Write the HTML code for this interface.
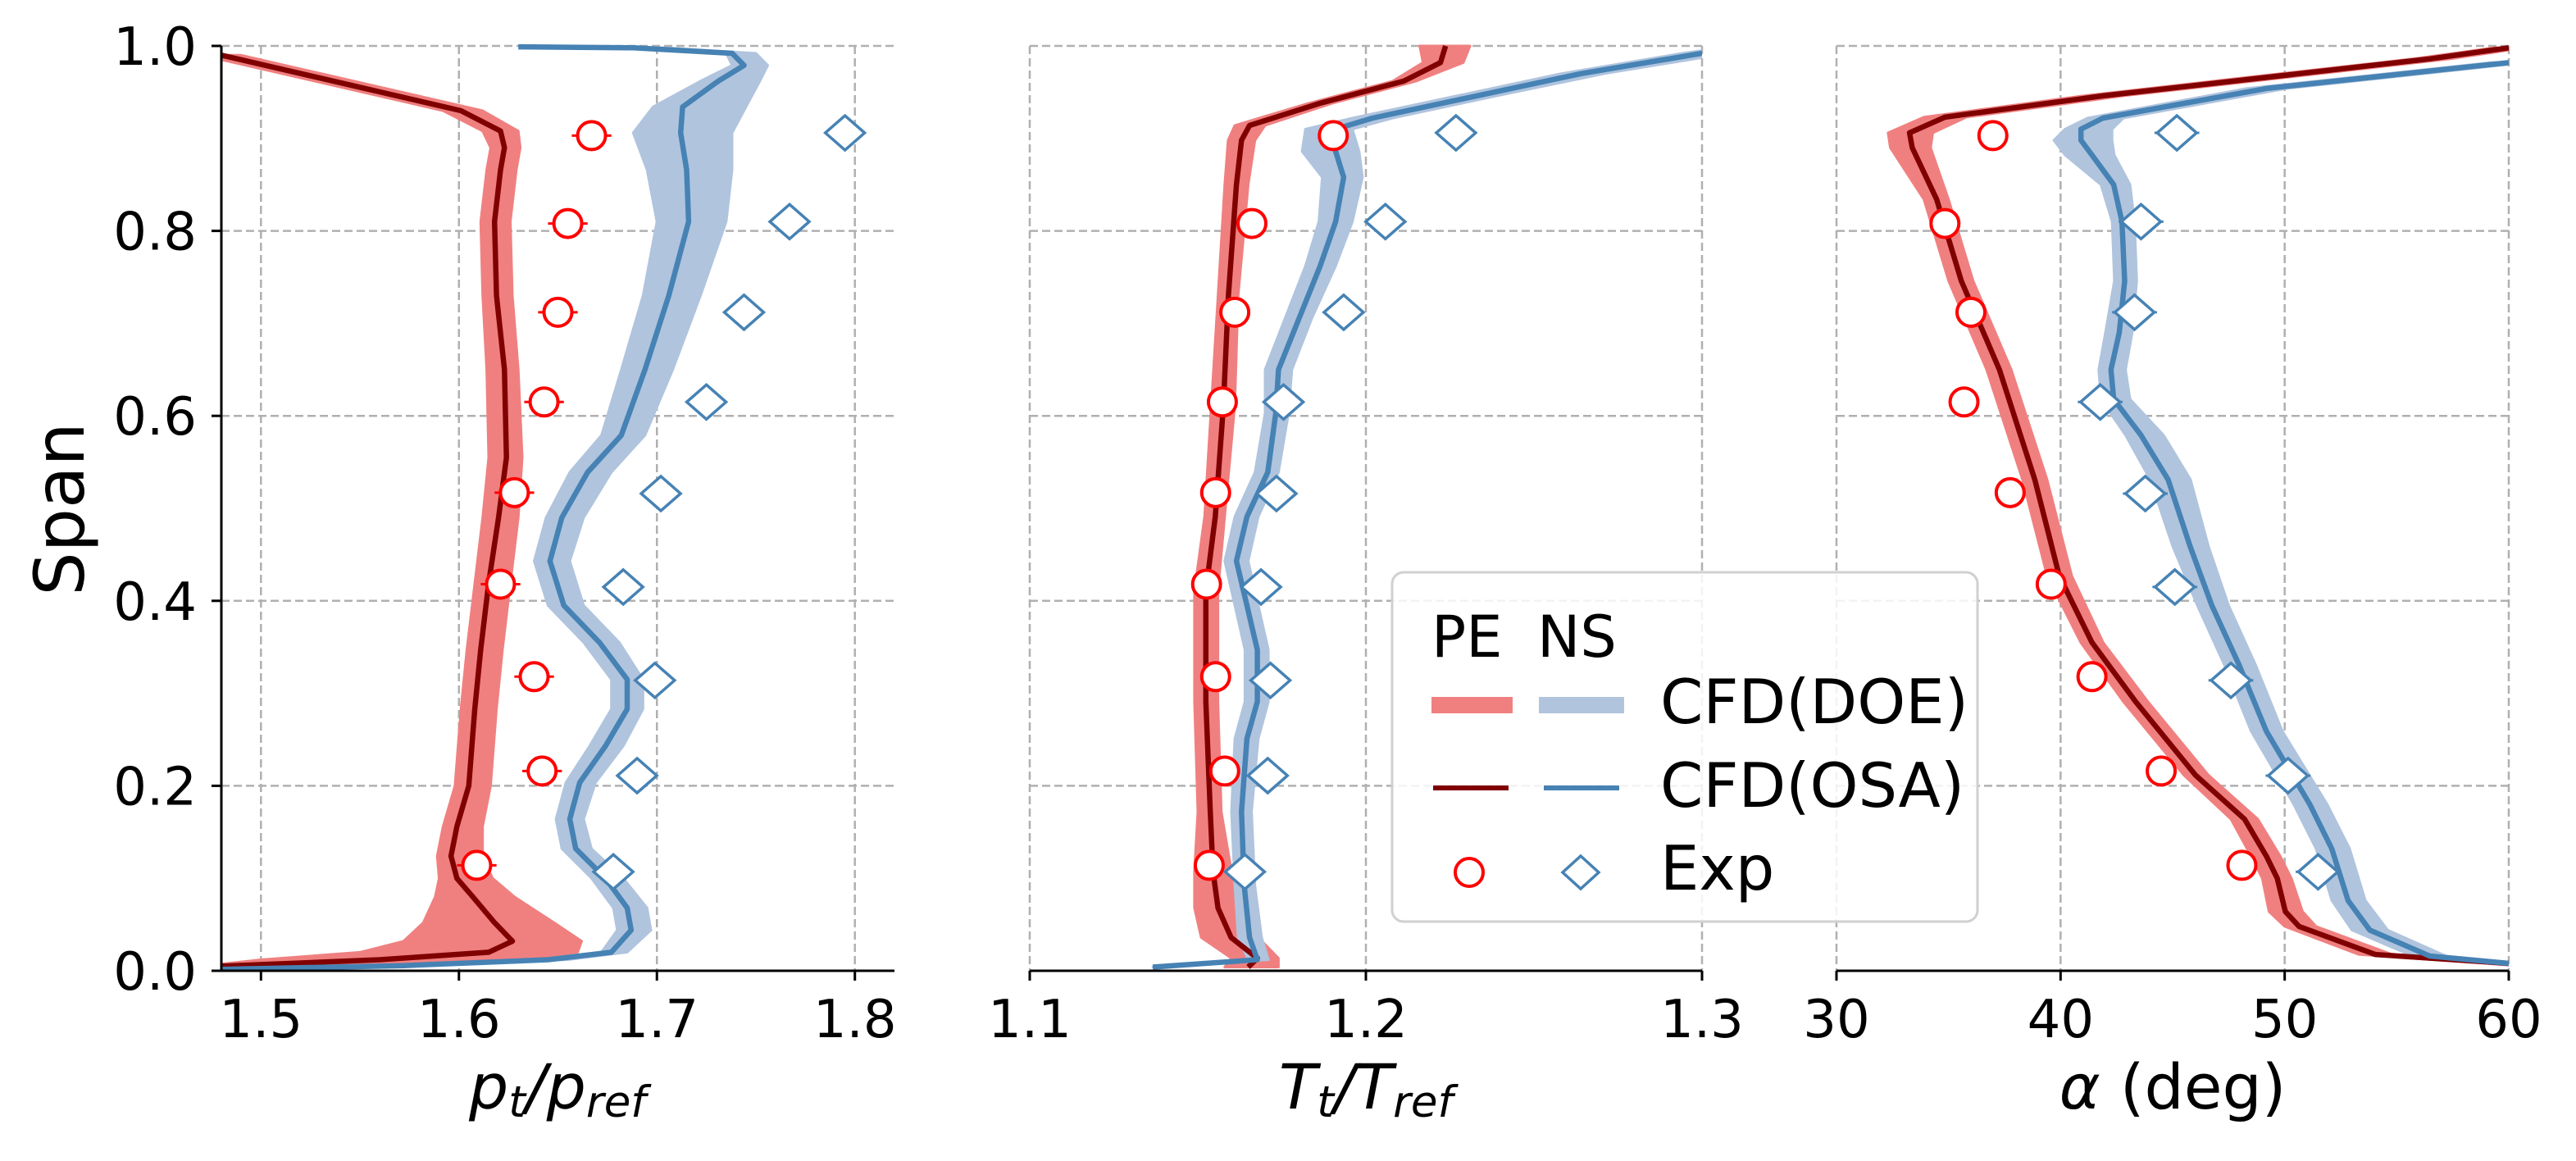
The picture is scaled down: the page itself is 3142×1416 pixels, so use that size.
<!DOCTYPE html>
<html><head><meta charset="utf-8"><style>
html,body{margin:0;padding:0;background:#fff;}
svg{display:block;}
text{font-family:"DejaVu Sans","Liberation Sans",sans-serif;}
</style></head><body>
<svg id="fig" width="3142" height="1416" viewBox="0 0 3142 1416" xmlns="http://www.w3.org/2000/svg">
<defs>
<clipPath id="c0"><rect x="270" y="50" width="821" height="1136"/></clipPath>
<clipPath id="c1"><rect x="1256" y="50" width="820" height="1136"/></clipPath>
<clipPath id="c2"><rect x="2240" y="50" width="820" height="1136"/></clipPath>
</defs>
<text x="0" y="0" transform="translate(102,621) rotate(-90)" text-anchor="middle" font-size="84">Span</text>
<text x="680" y="1352" text-anchor="middle" font-size="76" font-style="italic">p<tspan font-size="53" dy="10">t</tspan><tspan dy="-10">/p</tspan><tspan font-size="53" dy="10">ref</tspan></text>
<text x="1666" y="1352" text-anchor="middle" font-size="76" font-style="italic">T<tspan font-size="53" dy="10">t</tspan><tspan dy="-10">/T</tspan><tspan font-size="53" dy="10">ref</tspan></text>
<text x="2650" y="1352" text-anchor="middle" font-size="76"><tspan font-style="italic">α</tspan> (deg)</text>
<g id="legend">
<rect x="1698" y="698" width="714" height="426" rx="14" fill="#fff" fill-opacity="0.85" stroke="#d0d0d0" stroke-width="3"/>
<text x="1746" y="801" font-size="70" font-family="Liberation Sans, sans-serif">PE</text>
<text x="1875" y="801" font-size="70" font-family="Liberation Sans, sans-serif">NS</text>
<line x1="1746" y1="860" x2="1845" y2="860" stroke="#f08080" stroke-width="20"/>
<line x1="1877" y1="860" x2="1981" y2="860" stroke="#b0c4de" stroke-width="20"/>
<line x1="1748" y1="961" x2="1840" y2="961" stroke="#800000" stroke-width="6"/>
<line x1="1883" y1="961" x2="1975" y2="961" stroke="#4682b4" stroke-width="6"/>
<circle cx="1792" cy="1064" r="17" fill="#fff" stroke="#ff0000" stroke-width="4"/>
<path d="M1928 1044 L1950 1064 L1928 1084 L1906 1064 Z" fill="#fff" stroke="#4682b4" stroke-width="3.5"/>
<text x="2025" y="882" font-size="75" font-family="Liberation Sans, sans-serif">CFD(DOE)</text>
<text x="2025" y="984" font-size="75" font-family="Liberation Sans, sans-serif">CFD(OSA)</text>
<text x="2025" y="1085" font-size="75" font-family="Liberation Sans, sans-serif">Exp</text>
</g>
</svg>
<script>
// ---------- data ----------
const expSpanPE = [0.903,0.808,0.712,0.615,0.517,0.418,0.318,0.216,0.114];
const expSpanNS = [0.906,0.810,0.712,0.615,0.516,0.415,0.314,0.211,0.107];

const p1ExpPE = [1.667,1.655,1.650,1.643,1.628,1.621,1.638,1.642,1.609];
const p1ExpNS = [1.795,1.767,1.744,1.725,1.702,1.683,1.699,1.690,1.678];
const p1SpanPE = [0.005,0.012,0.02,0.032,0.052,0.08,0.10,0.124,0.156,0.2,0.283,0.347,0.419,0.49,0.555,0.65,0.73,0.81,0.866,0.89,0.908,0.93,0.99];
const p1OsaPE = [1.48,1.56,1.615,1.627,1.618,1.607,1.599,1.596,1.599,1.605,1.608,1.611,1.615,1.62,1.624,1.623,1.619,1.618,1.621,1.623,1.621,1.601,1.48];
const p1LoPE = [1.47,1.50,1.55,1.572,1.582,1.588,1.590,1.589,1.592,1.598,1.601,1.604,1.608,1.612,1.615,1.614,1.612,1.611,1.614,1.616,1.612,1.592,1.47];
const p1HiPE = [1.49,1.63,1.66,1.662,1.648,1.628,1.617,1.612,1.612,1.616,1.619,1.622,1.626,1.630,1.632,1.630,1.627,1.626,1.629,1.631,1.630,1.612,1.49];
const p1SpanNS = [0.0016,0.0056,0.012,0.02,0.044,0.068,0.1,0.132,0.164,0.2035,0.243,0.283,0.315,0.355,0.395,0.443,0.49,0.539,0.579,0.65,0.73,0.81,0.866,0.906,0.934,0.962,0.979,0.992,0.998,0.999];
const p1OsaNS = [1.48,1.572,1.645,1.677,1.687,1.685,1.674,1.659,1.656,1.661,1.674,1.685,1.685,1.671,1.653,1.646,1.652,1.665,1.682,1.694,1.706,1.716,1.715,1.712,1.713,1.731,1.744,1.738,1.688,1.63];
const p1LoNS = [1.48,1.57,1.64,1.672,1.680,1.678,1.667,1.652,1.649,1.654,1.666,1.677,1.677,1.663,1.645,1.638,1.644,1.656,1.672,1.682,1.693,1.700,1.695,1.688,1.698,1.722,1.738,1.735,1.690,1.66];
const p1HiNS = [1.48,1.58,1.655,1.685,1.697,1.695,1.683,1.667,1.663,1.669,1.683,1.693,1.693,1.681,1.663,1.656,1.663,1.677,1.694,1.708,1.722,1.735,1.738,1.738,1.745,1.752,1.756,1.750,1.705,1.665];

const p2ExpPE = [1.1903,1.1661,1.161,1.1573,1.1553,1.1526,1.1553,1.158,1.1534];
const p2ExpNS = [1.2268,1.2058,1.1934,1.1755,1.1734,1.1688,1.1716,1.1708,1.164];
const p2SpanPE = [0.004,0.0136,0.036,0.068,0.108,0.172,0.291,0.411,0.491,0.611,0.73,0.85,0.898,0.914,0.938,0.962,0.982,1.0];
const p2OsaPE = [1.165,1.1677,1.1599,1.156,1.1545,1.1537,1.1524,1.1524,1.1552,1.1576,1.1591,1.1615,1.163,1.1654,1.1864,1.2113,1.2222,1.2237];
const p2LoPE = [1.158,1.160,1.151,1.149,1.149,1.150,1.149,1.149,1.152,1.154,1.156,1.158,1.159,1.161,1.183,1.208,1.217,1.216];
const p2HiPE = [1.174,1.174,1.168,1.162,1.160,1.157,1.156,1.156,1.158,1.161,1.162,1.165,1.167,1.170,1.190,1.215,1.229,1.231];
const p2SpanNS = [0.004,0.012,0.036,0.092,0.172,0.251,0.291,0.347,0.395,0.443,0.491,0.539,0.603,0.65,0.706,0.762,0.81,0.858,0.886,0.91,0.922,0.946,0.97,0.992,1.0];
const p2OsaNS = [1.1366,1.1677,1.1654,1.1638,1.163,1.1646,1.1677,1.1677,1.1646,1.1615,1.1646,1.1708,1.1732,1.174,1.1802,1.1864,1.191,1.1934,1.191,1.191,1.202,1.233,1.264,1.3,1.31];
const p2LoNS = [1.1366,1.165,1.162,1.161,1.160,1.161,1.164,1.164,1.161,1.158,1.161,1.167,1.170,1.170,1.176,1.182,1.186,1.187,1.181,1.182,1.196,1.227,1.258,1.294,1.31];
const p2HiNS = [1.1366,1.171,1.169,1.167,1.166,1.168,1.171,1.171,1.168,1.165,1.168,1.174,1.177,1.178,1.184,1.191,1.196,1.199,1.198,1.196,1.208,1.239,1.271,1.308,1.31];

const p3ExpPE = [36.98,34.84,36.0,35.69,37.75,39.58,41.4,44.49,48.09];
const p3ExpNS = [45.19,43.59,43.3,41.77,43.78,45.1,47.6,50.15,51.49];
const p3SpanPE = [0.002,0.008,0.0176,0.048,0.064,0.1,0.124,0.164,0.2115,0.291,0.355,0.427,0.531,0.65,0.746,0.834,0.89,0.906,0.923,0.946,0.966,0.986,0.998];
const p3OsaPE = [62,60,54.04,50.64,50.03,49.67,49.18,48.21,46.02,43.35,41.4,39.94,38.85,37.27,35.57,34.47,33.38,33.26,34.84,41.89,49.18,56.47,60];
const p3LoPE = [62,59,53.3,50.0,49.3,49.0,48.5,47.6,45.5,42.8,40.9,39.4,38.3,36.7,35.0,33.9,32.4,32.3,33.9,41.0,48.3,55.7,59.3];
const p3HiPE = [62,61,54.8,51.4,50.8,50.3,49.8,48.8,46.6,43.9,41.9,40.5,39.4,37.8,36.1,35.0,34.2,34.3,35.8,42.8,50.1,57.4,60.7];
const p3SpanNS = [0.002,0.008,0.016,0.044,0.076,0.132,0.18,0.259,0.331,0.395,0.459,0.531,0.579,0.618,0.65,0.69,0.746,0.81,0.85,0.882,0.898,0.91,0.922,0.954,0.982];
const p3OsaNS = [62,60,56.47,53.8,52.83,52.1,51.12,49.18,47.96,46.75,45.78,44.8,43.59,42.37,42.25,42.62,42.86,42.74,42.37,41.4,40.91,40.91,41.89,49.18,60];
const p3LoNS = [62,59.3,55.7,53.0,52.1,51.4,50.4,48.5,47.3,46.1,45.0,44.0,42.9,41.8,41.7,42.0,42.4,42.3,41.8,40.2,39.7,40.2,41.2,48.3,59.2];
const p3HiNS = [62,60.7,57.2,54.6,53.6,52.9,51.9,49.9,48.7,47.5,46.6,45.8,44.6,43.1,42.9,43.2,43.4,43.3,43.1,42.4,42.3,42.3,42.8,50.1,60.8];

const p1Ticks = ["1.5","1.6","1.7","1.8"];
const p2Ticks = ["1.1","1.2","1.3"];
const p3Ticks = ["30","40","50","60"];
const yTicks = ["0.0","0.2","0.4","0.6","0.8","1.0"];

// ---------- drawing ----------
const NS = "http://www.w3.org/2000/svg";
const svg = document.getElementById("fig");
const legend = document.getElementById("legend");
const Y0 = 1184, Y1 = 56;
function ys(v){ return Y0 + (Y1 - Y0) * v; }
function mk(tag, attrs, parent){
  const e = document.createElementNS(NS, tag);
  for (const k in attrs) e.setAttribute(k, attrs[k]);
  if (parent) parent.appendChild(e); else svg.insertBefore(e, legend);
  return e;
}

const panels = [
  {x0:270, x1:1091, lo:1.48, hi:1.82, ticks:p1Ticks, clip:"c0", spine:true, name:"pressure",
   sPE:p1SpanPE, oPE:p1OsaPE, lPE:p1LoPE, hPE:p1HiPE, sNS:p1SpanNS, oNS:p1OsaNS, lNS:p1LoNS, hNS:p1HiNS,
   ePE:p1ExpPE, eNS:p1ExpNS, errPE:0.01, errNS:0},
  {x0:1256, x1:2076, lo:1.1, hi:1.3, ticks:p2Ticks, clip:"c1", spine:false, name:"temperature",
   sPE:p2SpanPE, oPE:p2OsaPE, lPE:p2LoPE, hPE:p2HiPE, sNS:p2SpanNS, oNS:p2OsaNS, lNS:p2LoNS, hNS:p2HiNS,
   ePE:p2ExpPE, eNS:p2ExpNS, errPE:0, errNS:0},
  {x0:2240, x1:3060, lo:30, hi:60, ticks:p3Ticks, clip:"c2", spine:false, name:"angle",
   sPE:p3SpanPE, oPE:p3OsaPE, lPE:p3LoPE, hPE:p3HiPE, sNS:p3SpanNS, oNS:p3OsaNS, lNS:p3LoNS, hNS:p3HiNS,
   ePE:p3ExpPE, eNS:p3ExpNS, errPE:0, errNS:1.0}
];

panels.forEach(function(p){
  const xs = function(v){ return p.x0 + (v - p.lo) / (p.hi - p.lo) * (p.x1 - p.x0); };
  const g = mk("g", {});
  
  
  p.ticks.forEach(function(t){
    const x = xs(parseFloat(t));
    const l = mk("line", {x1:x, x2:x, y1:Y1, y2:Y0, stroke:"#b0b0b0", "stroke-width":2.5, "stroke-dasharray":"10,5"}, g);
    
    
  });
  yTicks.forEach(function(t){
    const v = parseFloat(t); if (v === 0) return;
    const y = ys(v);
    const l = mk("line", {x1:p.x0, x2:p.x1, y1:y, y2:y, stroke:"#b0b0b0", "stroke-width":2.5, "stroke-dasharray":"10,5"}, g);
    
    
  });
  const cg = mk("g", {"clip-path":"url(#" + p.clip + ")"}, g);
  function band(s, lo, hi, color, nm){
    let pts = [];
    for (let i = 0; i < s.length; i++) pts.push(xs(hi[i]).toFixed(1) + "," + ys(s[i]).toFixed(1));
    for (let i = s.length - 1; i >= 0; i--) pts.push(xs(lo[i]).toFixed(1) + "," + ys(s[i]).toFixed(1));
    const e = mk("polygon", {points:pts.join(" "), fill:color, stroke:color, "stroke-width":3, "stroke-linejoin":"round"}, cg);
    
    
  }
  function line(s, v, color, nm){
    const pts = s.map(function(sv, i){ return xs(v[i]).toFixed(1) + "," + ys(sv).toFixed(1); }).join(" ");
    const e = mk("polyline", {points:pts, fill:"none", stroke:color, "stroke-width":6.5, "stroke-linejoin":"round"}, cg);
    
    
  }
  band(p.sPE, p.lPE, p.hPE, "#f08080", "pe-doe-band");
  band(p.sNS, p.lNS, p.hNS, "#b0c4de", "ns-doe-band");
  line(p.sPE, p.oPE, "#800000", "pe-osa-line");
  line(p.sNS, p.oNS, "#4682b4", "ns-osa-line");
  p.ePE.forEach(function(v, i){
    const x = xs(v), y = ys(expSpanPE[i]);
    if (p.errPE) {
      const eb = mk("line", {x1:xs(v - p.errPE), x2:xs(v + p.errPE), y1:y, y2:y, stroke:"#ff0000", "stroke-width":3}, g);
      
      
    }
    const c = mk("circle", {cx:x, cy:y, r:17, fill:"#fff", stroke:"#ff0000", "stroke-width":4}, g);
    
    
  });
  p.eNS.forEach(function(v, i){
    const x = xs(v), y = ys(expSpanNS[i]);
    if (p.errNS) {
      const eb = mk("line", {x1:xs(v - p.errNS), x2:xs(v + p.errNS), y1:y, y2:y, stroke:"#4682b4", "stroke-width":3}, g);
      
      
    }
    const d = mk("path", {d:"M" + x + " " + (y - 21) + " L" + (x + 24) + " " + y + " L" + x + " " + (y + 21) + " L" + (x - 24) + " " + y + " Z", fill:"#fff", stroke:"#4682b4", "stroke-width":3.5}, g);
    
    
  });
  const ax = mk("line", {x1:p.x0, x2:p.x1, y1:Y0, y2:Y0, stroke:"#000", "stroke-width":3}, g);
  
  
  p.ticks.forEach(function(t){
    const x = xs(parseFloat(t));
    const tk = mk("line", {x1:x, x2:x, y1:Y0, y2:Y0 + 12, stroke:"#000", "stroke-width":3}, g);
    
    
    const tx = mk("text", {x:x, y:1265, "text-anchor":"middle", "font-size":64}, g);
    tx.textContent = t;
    
    
  });
  if (p.spine) {
    const sp = mk("line", {x1:p.x0, x2:p.x0, y1:Y1, y2:Y0, stroke:"#000", "stroke-width":3}, g);
    
    
    yTicks.forEach(function(t){
      const y = ys(parseFloat(t));
      const tk = mk("line", {x1:p.x0 - 12, x2:p.x0, y1:y, y2:y, stroke:"#000", "stroke-width":3}, g);
      
      
      const tx = mk("text", {x:240, y:y + 23, "text-anchor":"end", "font-size":64}, g);
      tx.textContent = t;
      
      
    });
  }
});
</script>
</body></html>
